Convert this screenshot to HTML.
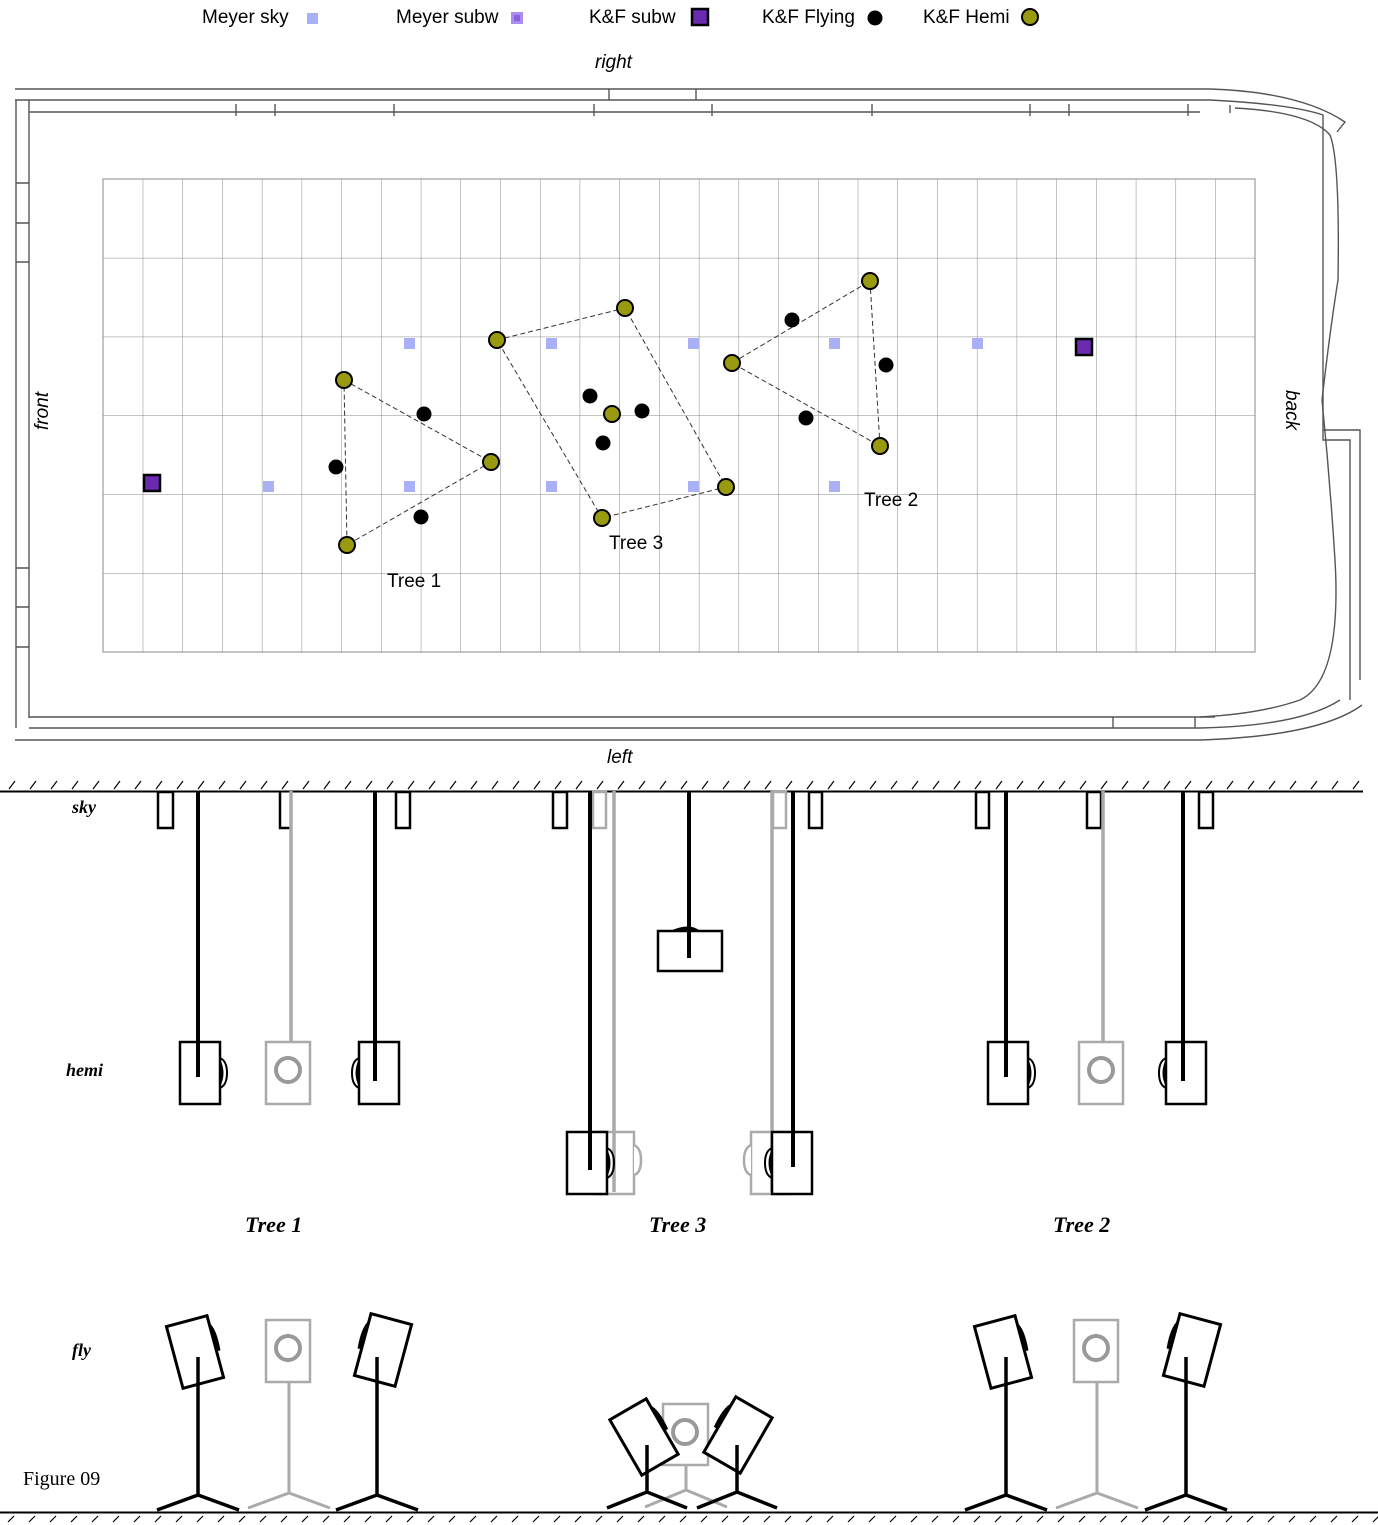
<!DOCTYPE html>
<html><head><meta charset="utf-8"><style>
html,body{margin:0;padding:0;background:#fff;}
svg{display:block;}
.s{font-family:"Liberation Sans",sans-serif;}
.t{font-family:"Liberation Serif",serif;font-style:italic;font-weight:bold;}
</style></head><body>
<svg width="1378" height="1525" viewBox="0 0 1378 1525" xmlns="http://www.w3.org/2000/svg">
<defs>
<pattern id="grid" x="103" y="179" width="39.724" height="78.833" patternUnits="userSpaceOnUse">
<path d="M0 0V78.833M0 0H39.724" stroke="#888" stroke-width="1" fill="none"/>
</pattern>
<pattern id="h1" x="0" y="778" width="21" height="14" patternUnits="userSpaceOnUse">
<path d="M9 11L15 3" stroke="#000" stroke-width="1.2"/>
</pattern>
<pattern id="h2" x="0" y="1513" width="21" height="12" patternUnits="userSpaceOnUse">
<path d="M8 9L14 3" stroke="#000" stroke-width="1.2"/>
</pattern>
<g id="hemiR"><rect x="0" y="0" width="40" height="62" fill="#fff" stroke="#000" stroke-width="2.5"/><path d="M40 16 q7 3 7 15 q0 12 -7 15" fill="none" stroke="#000" stroke-width="2"/><path d="M40 17 q7 14 0 28z" fill="#000"/></g>
<g id="hemiL"><rect x="0" y="0" width="40" height="62" fill="#fff" stroke="#000" stroke-width="2.5"/><path d="M0 16 q-7 3 -7 15 q0 12 7 15" fill="none" stroke="#000" stroke-width="2"/><path d="M0 17 q-7 14 0 28z" fill="#000"/></g>
<g id="gbox"><rect x="0" y="0" width="44" height="62" fill="#fff" stroke="#aaa" stroke-width="2.5"/><circle cx="22" cy="28" r="12" fill="none" stroke="#999" stroke-width="4"/></g>
<g id="stand"><path d="M0 0V138M-41 153L0 138L41 153" fill="none" stroke="#000" stroke-width="3.5"/></g>
<g id="gstand"><path d="M0 0V110M-41 125L0 110L41 125" fill="none" stroke="#aaa" stroke-width="3"/></g>
<g id="flyL"><rect x="-21" y="-32" width="42" height="64" fill="#fff" stroke="#000" stroke-width="3"/><path d="M21 -25 q6 8 4 30 l-4 0z" fill="#000"/></g>
<g id="flyR"><rect x="-21" y="-32" width="42" height="64" fill="#fff" stroke="#000" stroke-width="3"/><path d="M-21 -25 q-6 8 -4 30 l4 0z" fill="#000"/></g>
</defs>

<g class="s" font-size="19" fill="#000">
<text x="202" y="23">Meyer sky</text><rect x="307" y="13" width="11" height="11" fill="#aab0f5"/>
<text x="396" y="23">Meyer subw</text><rect x="511" y="12" width="12" height="12" fill="#a98ef0"/><rect x="514" y="15" width="6" height="6" fill="#8a5fe0"/>
<text x="589" y="23">K&amp;F subw</text><rect x="692" y="9" width="16" height="16" fill="#6a2bb0" stroke="#000" stroke-width="2.5"/>
<text x="762" y="23">K&amp;F Flying</text><circle cx="875" cy="18" r="7.5" fill="#000"/>
<text x="923" y="23">K&amp;F Hemi</text><circle cx="1030" cy="17" r="8" fill="#9a9a10" stroke="#000" stroke-width="2"/>
<text x="595" y="68" font-style="italic">right</text>
<text x="607" y="763" font-style="italic">left</text>
<text transform="translate(48,430) rotate(-90)" font-style="italic">front</text>
<text transform="translate(1286,390) rotate(90)" font-style="italic">back</text>
</g>

<g fill="none" stroke="#555" stroke-width="1.4">
<path d="M15 89H1210Q1300 92 1345 122L1337 132"/>
<path d="M15 100H1210Q1290 104 1323 115V430H1360V680"/>
<path d="M16 100V728M29 100V718"/>
<path d="M29 112H1200M1230 105V113M1235 108Q1310 112 1330 135Q1340 160 1338 280Q1330 330 1322 400Q1330 480 1335 560Q1342 680 1300 700Q1260 714 1200 717"/>
<path d="M609 89V100M696 89V100"/>
<path d="M236 104V116M275 104V116M394 104V116M594 104V116M712 104V116M872 104V116M1030 104V116M1069 104V116M1188 104V116"/>
<path d="M29 717H1215M29 728H1200Q1300 726 1340 700M15 740H1200Q1320 736 1362 705"/>
<path d="M1113 717V728M1195 717V728"/>
<path d="M1323 430V440H1350V700"/>
<path d="M16 183H29M16 223H29M16 262H29M16 568H29M16 607H29M16 647H29"/>
</g>

<rect x="103" y="179" width="1152" height="473" fill="url(#grid)" stroke="#888" stroke-width="1"/>

<g fill="none" stroke="#333" stroke-width="1" stroke-dasharray="5,3">
<path d="M344 380L491 462L347 545Z"/>
<path d="M497 340L625 308L726 487L602 518Z"/>
<path d="M870 281L880 446L732 363Z"/>
</g>

<g fill="#aab0f5">
<rect x="404" y="338" width="11" height="11"/><rect x="546" y="338" width="11" height="11"/><rect x="688" y="338" width="11" height="11"/><rect x="829" y="338" width="11" height="11"/><rect x="972" y="338" width="11" height="11"/>
<rect x="263" y="481" width="11" height="11"/><rect x="404" y="481" width="11" height="11"/><rect x="546" y="481" width="11" height="11"/><rect x="688" y="481" width="11" height="11"/><rect x="829" y="481" width="11" height="11"/>
</g>
<rect x="144" y="475" width="16" height="16" fill="#6a2bb0" stroke="#000" stroke-width="2.5"/>
<rect x="1076" y="339" width="16" height="16" fill="#6a2bb0" stroke="#000" stroke-width="2.5"/>

<g fill="#000">
<circle cx="424" cy="414" r="7.5"/><circle cx="336" cy="467" r="7.5"/><circle cx="421" cy="517" r="7.5"/>
<circle cx="590" cy="396" r="7.5"/><circle cx="642" cy="411" r="7.5"/><circle cx="603" cy="443" r="7.5"/>
<circle cx="792" cy="320" r="7.5"/><circle cx="886" cy="365" r="7.5"/><circle cx="806" cy="418" r="7.5"/>
</g>
<g fill="#9a9a10" stroke="#000" stroke-width="2">
<circle cx="344" cy="380" r="8"/><circle cx="491" cy="462" r="8"/><circle cx="347" cy="545" r="8"/>
<circle cx="497" cy="340" r="8"/><circle cx="625" cy="308" r="8"/><circle cx="726" cy="487" r="8"/><circle cx="602" cy="518" r="8"/><circle cx="612" cy="414" r="8"/>
<circle cx="870" cy="281" r="8"/><circle cx="880" cy="446" r="8"/><circle cx="732" cy="363" r="8"/>
</g>
<g class="s" font-size="19"><text x="387" y="587">Tree 1</text><text x="609" y="549">Tree 3</text><text x="864" y="506">Tree 2</text></g>

<rect x="0" y="778" width="1363" height="13" fill="url(#h1)"/>
<line x1="0" y1="791.5" x2="1363" y2="791.5" stroke="#000" stroke-width="2"/>
<rect x="0" y="1513" width="1378" height="12" fill="url(#h2)"/>
<line x1="0" y1="1512.5" x2="1378" y2="1512.5" stroke="#000" stroke-width="2"/>

<g class="t" font-size="18" font-weight="normal">
<text x="72" y="813">sky</text><text x="66" y="1076">hemi</text><text x="72" y="1356">fly</text>
</g>
<text x="23" y="1485" font-family="Liberation Serif,serif" font-size="20">Figure 09</text>
<g class="t" font-size="22"><text x="245" y="1232">Tree 1</text><text x="649" y="1232">Tree 3</text><text x="1053" y="1232">Tree 2</text></g>

<g fill="#fff" stroke="#000" stroke-width="2.5">
<rect x="158" y="792" width="15" height="36"/><rect x="396" y="792" width="14" height="36"/>
<rect x="553" y="792" width="14" height="36"/><rect x="809" y="792" width="13" height="36"/>
<rect x="976" y="792" width="13" height="36"/><rect x="1087" y="792" width="14" height="36"/><rect x="1199" y="792" width="14" height="36"/>
</g>
<g fill="#fff" stroke="#aaa" stroke-width="2.5"><rect x="593" y="792" width="13" height="36"/><rect x="773" y="792" width="13" height="36"/></g>
<path d="M280 792V828H292" fill="none" stroke="#000" stroke-width="2.5"/>

<use href="#hemiR" x="180" y="1042"/>
<use href="#gbox" x="266" y="1042"/>
<use href="#hemiL" x="359" y="1042"/>
<line x1="198" y1="791" x2="198" y2="1077" stroke="#000" stroke-width="4"/>
<line x1="291" y1="791" x2="291" y2="1042" stroke="#aaa" stroke-width="3.5"/>
<line x1="375" y1="791" x2="375" y2="1081" stroke="#000" stroke-width="4"/>
<use href="#hemiR" x="988" y="1042"/>
<use href="#gbox" x="1079" y="1042"/>
<use href="#hemiL" x="1166" y="1042"/>
<line x1="1006" y1="791" x2="1006" y2="1077" stroke="#000" stroke-width="4"/>
<line x1="1103" y1="791" x2="1103" y2="1042" stroke="#aaa" stroke-width="3.5"/>
<line x1="1183" y1="791" x2="1183" y2="1081" stroke="#000" stroke-width="4"/>

<g fill="#fff" stroke="#aaa" stroke-width="2.5">
<rect x="596" y="1132" width="38" height="62"/><path d="M634 1145q7 3 7 15q0 13 -7 15"/>
<rect x="751" y="1132" width="38" height="62"/><path d="M751 1145q-7 3 -7 15q0 13 7 15"/>
</g>
<line x1="614" y1="791" x2="614" y2="1192" stroke="#aaa" stroke-width="3.5"/>
<line x1="772" y1="791" x2="772" y2="1192" stroke="#aaa" stroke-width="3.5"/>
<use href="#hemiR" x="567" y="1132"/>
<use href="#hemiL" x="772" y="1132"/>
<line x1="590" y1="791" x2="590" y2="1170" stroke="#000" stroke-width="4"/>
<line x1="793" y1="791" x2="793" y2="1167" stroke="#000" stroke-width="4"/>
<rect x="658" y="931" width="64" height="40" fill="#fff" stroke="#000" stroke-width="2.5"/>
<path d="M670 931q20 -9 30 0z" fill="#000"/>
<line x1="689" y1="791" x2="689" y2="958" stroke="#000" stroke-width="4"/>

<use href="#flyL" transform="translate(195,1352) rotate(-15)"/>
<use href="#stand" x="198" y="1357"/>
<use href="#gbox" x="266" y="1320"/>
<use href="#gstand" x="289" y="1383"/>
<use href="#flyR" transform="translate(383,1350) rotate(15)"/>
<use href="#stand" x="377" y="1357"/>
<use href="#flyL" transform="translate(1003,1352) rotate(-15)"/>
<use href="#stand" x="1006" y="1357"/>
<use href="#gbox" x="1074" y="1320"/>
<use href="#gstand" x="1097" y="1383"/>
<use href="#flyR" transform="translate(1192,1350) rotate(15)"/>
<use href="#stand" x="1186" y="1357"/>
<g transform="translate(663,1404)"><rect x="0" y="0" width="45" height="61" fill="#fff" stroke="#aaa" stroke-width="2.5"/><circle cx="22" cy="28" r="12" fill="none" stroke="#999" stroke-width="4"/></g>
<path d="M686 1466V1490M645 1507L686 1490L727 1507" fill="none" stroke="#aaa" stroke-width="3"/>
<use href="#flyL" transform="translate(644,1437) rotate(-30)"/>
<path d="M647 1445V1492M607 1508L647 1492L687 1508" fill="none" stroke="#000" stroke-width="3.5"/>
<use href="#flyR" transform="translate(738,1435) rotate(30)"/>
<path d="M737 1445V1492M697 1508L737 1492L777 1508" fill="none" stroke="#000" stroke-width="3.5"/>
</svg>
</body></html>
